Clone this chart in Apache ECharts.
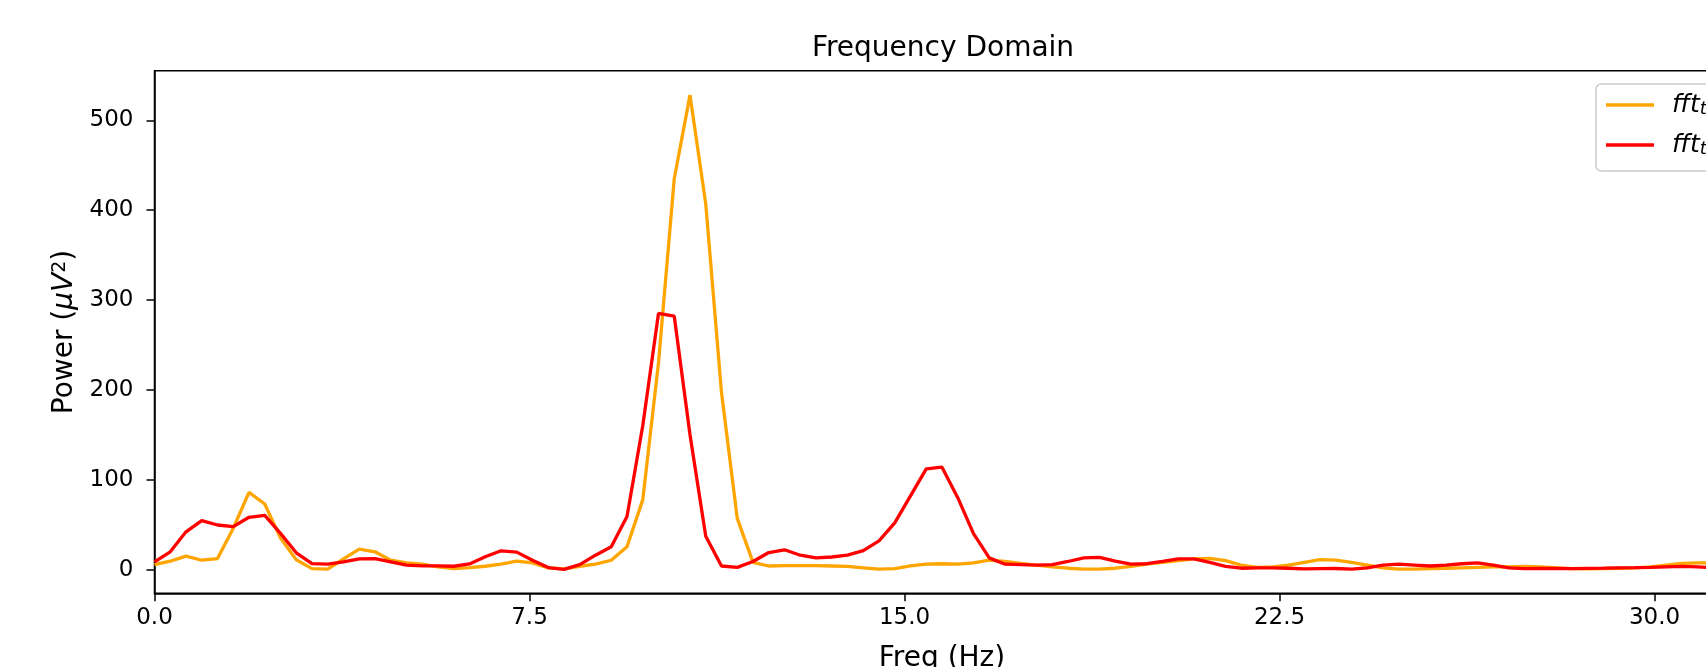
<!DOCTYPE html>
<html>
<head>
<meta charset="utf-8">
<script src="https://cdn.jsdelivr.net/npm/echarts@6/dist/echarts.min.js"></script>
<style>
html,body{margin:0;padding:0;background:#fff;}
#chart{width:1706px;height:667px;}
</style>
</head>
<body>
<div id="chart"></div>
<script>
// Frequency bins (Hz)
const freqs = [0,0.315,0.63,0.945,1.26,1.575,1.89,2.205,2.52,2.835,3.15,3.465,3.78,4.095,4.41,4.725,5.04,5.355,5.67,5.985,
  6.3,6.615,6.93,7.245,7.56,7.875,8.19,8.505,8.82,9.135,9.45,9.765,10.08,10.395,10.71,11.025,11.34,11.655,11.97,12.285,
  12.6,12.915,13.23,13.545,13.86,14.175,14.49,14.805,15.12,15.435,15.75,16.065,16.38,16.695,17.01,17.325,17.64,17.955,18.27,18.585,
  18.9,19.215,19.53,19.845,20.16,20.475,20.79,21.105,21.42,21.735,22.05,22.365,22.68,22.995,23.31,23.625,23.94,24.255,24.57,24.885,
  25.2,25.515,25.83,26.145,26.46,26.775,27.09,27.405,27.72,28.035,28.35,28.665,28.98,29.295,29.61,29.925,30.24,30.555,30.87,31.185,31.5];

// Series 1 (orange)
const powerA = [5.6,9.3,15,10.4,12.3,46,86,73,35,11,1.1,0.4,12,22.8,19.8,10.4,7.5,6,3,1.1,
  2.2,3.7,6,9.3,7.5,1.9,0.7,3.7,6,10.4,25.4,77.6,230,435,528,407,197,57,8,4,
  4.5,4.5,4.5,4,3.5,2,0.5,1,4,6,6.5,6,7.5,10.5,9,7,5,3,1.5,0.5,
  0.5,1.5,3.5,6,8,10,12,12.5,10,5,2.5,3,5,8,11,10.5,8,5,2,0.5,
  0.5,1,1.5,2,2.5,3,3,3.5,3,2,1,0.8,1,1.5,2,3,5,7,7.5,7.5,7];

// Series 2 (red)
const powerB = [8.6,19.8,42,54.5,49.6,47.8,58.2,60.4,40.3,18.7,6.7,6,8.6,12,12.3,8.6,4.9,4.1,4.1,3.7,
  6.3,14.2,20.9,19.4,10.4,2.2,0.3,5.6,16,25.4,59,160,285,282,150,37,4,2.5,9,19,
  22,16,13,14,16,21,32,52,82,112,114,80,40,13,6,5.5,5,5.5,9,13,
  13.5,9.5,6,6.5,9,12,12,8,3.5,1.5,2,2,1.5,0.8,1,1.2,0.5,2,5,6,
  5,4,5,6.5,7.5,5,2,1,1.3,1.2,1,1.3,1.6,2,2.2,2.5,3,3.5,3,2,2];

const xTicks = [0, 7.5, 15, 22.5, 30];
const yTicks = [0, 100, 200, 300, 400, 500];

const seriesNames = ['fft_trial1', 'fft_trial2'];
const legendSubs = {'fft_trial1': 'trial 1', 'fft_trial2': 'trial 2'};

const FONT = '"DejaVu Sans", "Liberation Sans", sans-serif';

const chart = echarts.init(document.getElementById('chart'), null, {renderer: 'canvas'});

const option = {
  backgroundColor: '#ffffff',
  animation: false,
  graphic: [{
    type: 'text',
    x: 943,
    y: 49,
    style: {
      text: 'Frequency Domain',
      font: '28px ' + FONT,
      fill: '#000',
      align: 'center',
      verticalAlign: 'middle'
    }
  }],
  legend: {
    orient: 'vertical',
    left: 1596,
    top: 84,
    padding: [8, 10, 13, 10],
    itemGap: 14,
    itemWidth: 48,
    itemHeight: 3.3,
    icon: 'rect',
    borderColor: '#cccccc',
    borderWidth: 1.5,
    borderRadius: 5,
    backgroundColor: 'rgba(255,255,255,0.8)',
    data: seriesNames,
    formatter: function (name) {
      return '{i|fft}{s|' + legendSubs[name] + '}';
    },
    textStyle: {
      lineHeight: 26,
      rich: {
        i: {fontFamily: FONT, fontStyle: 'italic', fontSize: 25, lineHeight: 26, color: '#000', padding: [0, 0, 0, 13], verticalAlign: 'middle'},
        s: {fontFamily: FONT, fontStyle: 'italic', fontSize: 18, lineHeight: 16, color: '#000', verticalAlign: 'bottom'}
      }
    }
  },
  grid: {
    left: 154.5,
    top: 70.7,
    width: 1575,
    height: 522.6,
    containLabel: false,
    outerBoundsMode: 'none',
    show: true,
    borderColor: '#000',
    borderWidth: 1.5,
    backgroundColor: 'transparent'
  },
  xAxis: {
    type: 'value',
    min: 0,
    max: 31.5,
    name: 'Freq (Hz)',
    nameLocation: 'middle',
    nameGap: 51,
    nameTextStyle: {fontFamily: FONT, fontSize: 28, color: '#000'},
    axisLine: {show: true, onZero: false, lineStyle: {color: '#000', width: 1.5}},
    axisTick: {show: true, length: 8, inside: false, customValues: xTicks, lineStyle: {color: '#000', width: 1.5}},
    axisLabel: {
      show: true, margin: 13, customValues: xTicks,
      fontFamily: FONT, fontSize: 23, color: '#000',
      formatter: function (v) { return Number(v).toFixed(1); }
    },
    splitLine: {show: false}
  },
  yAxis: {
    type: 'value',
    min: -26.4,
    max: 555.2,
    name: 'Power ({m|μV}{p|2})',
    nameLocation: 'middle',
    nameRotate: 90,
    nameGap: 74,
    nameTextStyle: {
      fontFamily: FONT, fontSize: 28, color: '#000',
      rich: {
        m: {fontFamily: FONT, fontStyle: 'italic', fontSize: 28, color: '#000'},
        p: {fontFamily: FONT, fontSize: 19, color: '#000', verticalAlign: 'top', lineHeight: 28}
      }
    },
    axisLine: {show: true, onZero: false, lineStyle: {color: '#000', width: 1.5}},
    axisTick: {show: true, length: 8, inside: false, customValues: yTicks, lineStyle: {color: '#000', width: 1.5}},
    axisLabel: {
      show: true, margin: 21, customValues: yTicks,
      fontFamily: FONT, fontSize: 23, color: '#000'
    },
    splitLine: {show: false}
  },
  series: [
    {
      name: seriesNames[0],
      type: 'line',
      data: freqs.map((f, i) => [f, powerA[i]]),
      symbol: 'none',
      showSymbol: false,
      clip: true,
      color: '#ffa500',
      lineStyle: {color: '#ffa500', width: 3.3}
    },
    {
      name: seriesNames[1],
      type: 'line',
      data: freqs.map((f, i) => [f, powerB[i]]),
      symbol: 'none',
      showSymbol: false,
      clip: true,
      color: '#ff0000',
      lineStyle: {color: '#ff0000', width: 3.3}
    }
  ]
};

chart.setOption(option);
</script>
</body>
</html>
